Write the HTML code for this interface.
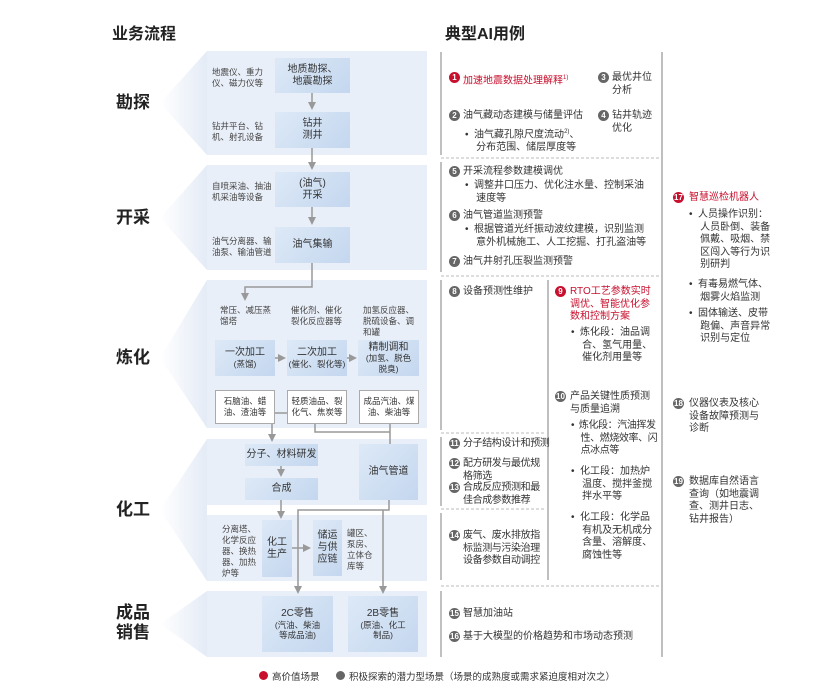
<!DOCTYPE html>
<html><head><meta charset="utf-8"><style>
body{margin:0;width:835px;height:688px;background:#fff;position:relative;overflow:hidden;font-family:"Liberation Sans","Noto Sans CJK SC",sans-serif;color:#333}
.a{position:absolute;white-space:nowrap}
.box{position:absolute;background:linear-gradient(135deg,#dde9f7,#c4d7ef);display:flex;flex-direction:column;align-items:center;justify-content:center;text-align:center;font-size:10px;line-height:12px;color:#333}
.wb{position:absolute;background:#fff;border:1px solid #aaa;box-sizing:border-box;display:flex;align-items:center;justify-content:center;text-align:center;font-size:8.5px;line-height:11px}
.s{position:absolute;font-size:8.5px;line-height:11px;color:#444;white-space:nowrap}
.t{position:absolute;font-size:10px;line-height:12.5px;color:#333;white-space:nowrap}
.c{letter-spacing:-0.4px}
.r{color:#c8102e}
.n{position:absolute;width:11px;height:11px;border-radius:50%;background:#666;color:#fff;font-size:8px;line-height:11px;text-align:center;font-weight:bold}
.n.red{background:#c8102e}
.L{position:absolute;font-size:17px;font-weight:bold;color:#222;line-height:20px}
.sm{font-size:8.5px;line-height:10.5px}
</style></head><body>
<svg width="835" height="688" style="position:absolute;left:0;top:0">
<defs>
<linearGradient id="cg" x1="0" x2="1"><stop offset="0" stop-color="#fff"/><stop offset="1" stop-color="#e4ebf6"/></linearGradient>
<marker id="ar" markerWidth="8" markerHeight="8" refX="4" refY="4" orient="auto" markerUnits="userSpaceOnUse"><path d="M0,0 L8,4 L0,8 z" fill="#999"/></marker>
</defs>
<g fill="url(#cg)">
<polygon points="207,51 160,103 207,155"/>
<polygon points="207,165 160,218 207,270"/>
<polygon points="207,280 160,358 207,428"/>
<polygon points="207,439 160,510 207,581"/>
<polygon points="207,591 160,624 207,657"/>
</g>
<g fill="#e9eff8">
<rect x="207" y="51" width="220" height="104"/>
<rect x="207" y="165" width="220" height="105"/>
<rect x="207" y="280" width="220" height="148"/>
<rect x="207" y="439" width="220" height="66"/>
<rect x="207" y="515" width="220" height="66"/>
<rect x="207" y="591" width="220" height="66"/>
</g>
<g stroke="#999" stroke-width="1.5" fill="none">
<line x1="312" y1="93" x2="312" y2="106" marker-end="url(#ar)"/>
<line x1="312" y1="148" x2="312" y2="166" marker-end="url(#ar)"/>
<line x1="312" y1="207" x2="312" y2="221" marker-end="url(#ar)"/>
<polyline points="312,263 312,287 245,287 245,297" marker-end="url(#ar)"/>
<line x1="275" y1="358" x2="282" y2="358" marker-end="url(#ar)"/>
<line x1="347" y1="358" x2="353" y2="358" marker-end="url(#ar)"/>
<line x1="272" y1="424" x2="272" y2="438" marker-end="url(#ar)"/>
<line x1="275" y1="413" x2="287" y2="413"/>
<polyline points="315,424 315,432 390,432"/>
<line x1="390" y1="424" x2="390" y2="444"/>
<line x1="281" y1="466" x2="281" y2="473" marker-end="url(#ar)"/>
<line x1="281" y1="500" x2="281" y2="515" marker-end="url(#ar)"/>
<line x1="292" y1="548" x2="307" y2="548" marker-end="url(#ar)"/>
<polyline points="389,500 389,510 298,510 298,590" marker-end="url(#ar)"/>
<line x1="383" y1="510" x2="383" y2="590" marker-end="url(#ar)"/>
</g>
<g stroke="#aaa" stroke-width="1.5">
<line x1="441" y1="52" x2="441" y2="155"/>
<line x1="441" y1="162" x2="441" y2="272"/>
<line x1="441" y1="280" x2="441" y2="430"/>
<line x1="441" y1="437" x2="441" y2="506"/>
<line x1="441" y1="513" x2="441" y2="580"/>
<line x1="441" y1="591" x2="441" y2="657"/>
<line x1="548" y1="280" x2="548" y2="580"/>
<line x1="662" y1="52" x2="662" y2="657"/>
</g>
<g stroke="#bbb" stroke-width="1" stroke-dasharray="3,2">
<line x1="441" y1="158" x2="660" y2="158"/>
<line x1="441" y1="276" x2="660" y2="276"/>
<line x1="441" y1="433" x2="545" y2="433"/>
<line x1="441" y1="509" x2="545" y2="509"/>
<line x1="441" y1="586" x2="660" y2="586"/>
</g>
</svg>

<div class="a" style="left:112px;top:20px;font-size:16px;font-weight:bold;color:#222">业务流程</div>
<div class="a" style="left:445px;top:20px;font-size:16px;font-weight:bold;color:#222">典型AI用例</div>

<div class="L" style="left:116px;top:93px">勘探</div>
<div class="L" style="left:116px;top:208px">开采</div>
<div class="L" style="left:116px;top:348px">炼化</div>
<div class="L" style="left:116px;top:500px">化工</div>
<div class="L" style="left:116px;top:603px">成品<br>销售</div>

<div class="s" style="left:212px;top:67px">地震仪、重力<br>仪、磁力仪等</div>
<div class="s" style="left:212px;top:121px">钻井平台、钻<br>机、射孔设备</div>
<div class="s" style="left:212px;top:181px">自喷采油、抽油<br>机采油等设备</div>
<div class="s" style="left:212px;top:236px">油气分离器、输<br>油泵、输油管道</div>
<div class="box" style="left:275px;top:58px;width:75px;height:35px">地质勘探、<br>地震勘探</div>
<div class="box" style="left:275px;top:112px;width:75px;height:36px">钻井<br>测井</div>
<div class="box" style="left:275px;top:172px;width:75px;height:35px">(油气)<br>开采</div>
<div class="box" style="left:275px;top:227px;width:75px;height:36px">油气集输</div>

<div class="s" style="left:220px;top:305px">常压、减压蒸<br>馏塔</div>
<div class="s" style="left:291px;top:305px">催化剂、催化<br>裂化反应器等</div>
<div class="s" style="left:363px;top:305px">加氢反应器、<br>脱硫设备、调<br>和罐</div>
<div class="box" style="left:215px;top:340px;width:60px;height:36px">一次加工<br><span class="sm">(蒸馏)</span></div>
<div class="box" style="left:287px;top:340px;width:60px;height:36px">二次加工<br><span class="sm">(催化、裂化等)</span></div>
<div class="box" style="left:358px;top:340px;width:61px;height:36px;line-height:11px">精制调和<br><span class="sm">(加氢、脱色<br>脱臭)</span></div>
<div class="wb" style="left:215px;top:390px;width:60px;height:34px">石脑油、蜡<br>油、渣油等</div>
<div class="wb" style="left:287px;top:390px;width:60px;height:34px">轻质油品、裂<br>化气、焦炭等</div>
<div class="wb" style="left:359px;top:390px;width:60px;height:34px">成品汽油、煤<br>油、柴油等</div>

<div class="box" style="left:245px;top:444px;width:73px;height:22px">分子、材料研发</div>
<div class="box" style="left:245px;top:478px;width:73px;height:22px">合成</div>
<div class="box" style="left:359px;top:444px;width:59px;height:56px">油气管道</div>
<div class="s" style="left:222px;top:524px">分离塔、<br>化学反应<br>器、换热<br>器、加热<br>炉等</div>
<div class="box" style="left:262px;top:520px;width:30px;height:57px">化工<br>生产</div>
<div class="box" style="left:313px;top:520px;width:29px;height:56px">储运<br>与供<br>应链</div>
<div class="s" style="left:347px;top:528px">罐区、<br>泵房、<br>立体仓<br>库等</div>
<div class="box" style="left:262px;top:596px;width:71px;height:56px">2C零售<br><span class="sm">(汽油、柴油<br>等成品油)</span></div>
<div class="box" style="left:348px;top:596px;width:70px;height:56px">2B零售<br><span class="sm">(原油、化工<br>制品)</span></div>

<div class="n red" style="left:449px;top:72px">1</div><div class="t r" style="left:463px;top:72px">加速地震数据处理解释<sup style="font-size:6px">1)</sup></div>
<div class="n" style="left:598px;top:72px">3</div><div class="t" style="left:612px;top:72px">最优井位<br>分析</div>
<div class="n" style="left:449px;top:110px">2</div><div class="t" style="left:463px;top:110px">油气藏动态建模与储量评估</div>
<div class="t" style="left:465px;top:126px">•&nbsp; 油气藏孔隙尺度流动<sup style="font-size:6px">2)</sup>、<br>&nbsp;&nbsp;&nbsp; 分布范围、储层厚度等</div>
<div class="n" style="left:598px;top:110px">4</div><div class="t" style="left:612px;top:110px">钻井轨迹<br>优化</div>
<div class="n" style="left:449px;top:166px">5</div><div class="t" style="left:463px;top:166px">开采流程参数建模调优</div>
<div class="t" style="left:465px;top:180px">•&nbsp; 调整井口压力、优化注水量、控制采油<br>&nbsp;&nbsp;&nbsp; 速度等</div>
<div class="n" style="left:449px;top:210px">6</div><div class="t" style="left:463px;top:210px">油气管道监测预警</div>
<div class="t" style="left:465px;top:224px">•&nbsp; 根据管道光纤振动波纹建模，识别监测<br>&nbsp;&nbsp;&nbsp; 意外机械施工、人工挖掘、打孔盗油等</div>
<div class="n" style="left:449px;top:256px">7</div><div class="t" style="left:463px;top:256px">油气井射孔压裂监测预警</div>
<div class="n" style="left:449px;top:286px">8</div><div class="t" style="left:463px;top:286px">设备预测性维护</div>
<div class="n red" style="left:555px;top:286px">9</div><div class="t r" style="left:570px;top:286px">RTO工艺参数实时<br>调优、智能优化参<br>数和控制方案</div>
<div class="t" style="left:571px;top:327px">•&nbsp; 炼化段：油品调<br>&nbsp;&nbsp;&nbsp; 合、氢气用量、<br>&nbsp;&nbsp;&nbsp; 催化剂用量等</div>
<div class="n" style="left:555px;top:391px">10</div><div class="t" style="left:570px;top:391px">产品关键性质预测<br>与质量追溯</div>
<div class="t c" style="left:571px;top:420px">•&nbsp; 炼化段：汽油挥发<br>&nbsp;&nbsp;&nbsp; 性、燃烧效率、闪<br>&nbsp;&nbsp;&nbsp; 点冰点等</div>
<div class="t" style="left:571px;top:466px">•&nbsp; 化工段：加热炉<br>&nbsp;&nbsp;&nbsp; 温度、搅拌釜搅<br>&nbsp;&nbsp;&nbsp; 拌水平等</div>
<div class="t" style="left:571px;top:512px">•&nbsp; 化工段：化学品<br>&nbsp;&nbsp;&nbsp; 有机及无机成分<br>&nbsp;&nbsp;&nbsp; 含量、溶解度、<br>&nbsp;&nbsp;&nbsp; 腐蚀性等</div>
<div class="n" style="left:449px;top:438px">11</div><div class="t c" style="left:463px;top:438px">分子结构设计和预测</div>
<div class="n" style="left:449px;top:458px">12</div><div class="t c" style="left:463px;top:458px">配方研发与最优规<br>格筛选</div>
<div class="n" style="left:449px;top:482px">13</div><div class="t c" style="left:463px;top:482px">合成反应预测和最<br>佳合成参数推荐</div>
<div class="n" style="left:449px;top:530px">14</div><div class="t c" style="left:463px;top:530px">废气、废水排放指<br>标监测与污染治理<br>设备参数自动调控</div>
<div class="n" style="left:449px;top:608px">15</div><div class="t" style="left:463px;top:608px">智慧加油站</div>
<div class="n" style="left:449px;top:631px">16</div><div class="t" style="left:463px;top:631px">基于大模型的价格趋势和市场动态预测</div>
<div class="n red" style="left:673px;top:192px">17</div><div class="t r" style="left:689px;top:192px">智慧巡检机器人</div>
<div class="t" style="left:689px;top:209px">•&nbsp; 人员操作识别：<br>&nbsp;&nbsp;&nbsp; 人员卧倒、装备<br>&nbsp;&nbsp;&nbsp; 佩戴、吸烟、禁<br>&nbsp;&nbsp;&nbsp; 区闯入等行为识<br>&nbsp;&nbsp;&nbsp; 别研判</div>
<div class="t" style="left:689px;top:279px">•&nbsp; 有毒易燃气体、<br>&nbsp;&nbsp;&nbsp; 烟雾火焰监测</div>
<div class="t" style="left:689px;top:308px">•&nbsp; 固体输送、皮带<br>&nbsp;&nbsp;&nbsp; 跑偏、声音异常<br>&nbsp;&nbsp;&nbsp; 识别与定位</div>
<div class="n" style="left:673px;top:398px">18</div><div class="t" style="left:689px;top:398px">仪器仪表及核心<br>设备故障预测与<br>诊断</div>
<div class="n" style="left:673px;top:476px">19</div><div class="t" style="left:689px;top:476px">数据库自然语言<br>查询（如地震调<br>查、测井日志、<br>钻井报告）</div>

<div class="a" style="left:259px;top:671px;width:9px;height:9px;border-radius:50%;background:#c8102e"></div>
<div class="a" style="left:272px;top:669px;font-size:9.5px">高价值场景</div>
<div class="a" style="left:336px;top:671px;width:9px;height:9px;border-radius:50%;background:#666"></div>
<div class="a" style="left:349px;top:669px;font-size:9.5px">积极探索的潜力型场景（场景的成熟度或需求紧迫度相对次之）</div>
</body></html>
